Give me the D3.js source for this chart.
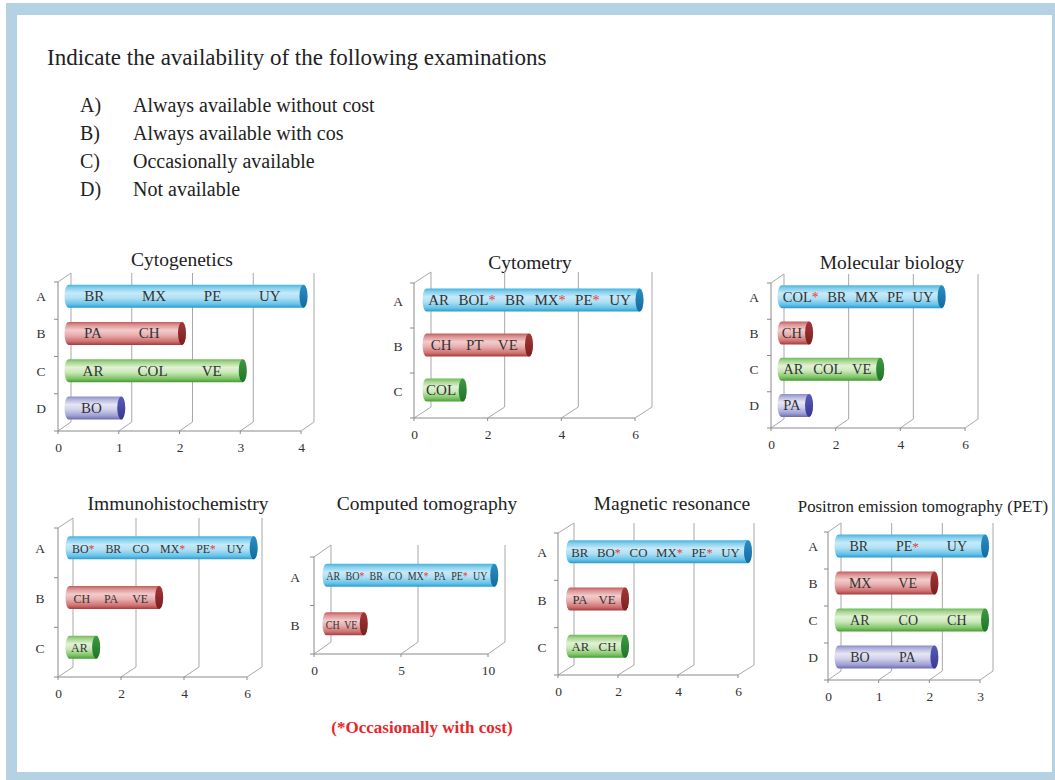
<!DOCTYPE html>
<html>
<head>
<meta charset="utf-8">
<script src="https://cdn.jsdelivr.net/npm/d3@7"></script>
<style>
  html, body { margin: 0; padding: 0; background: #fff; }
  svg { display: block; }
  text { font-family: "Liberation Serif", "Times New Roman", serif; }
</style>
</head>
<body>
<svg id="chart" width="1055" height="780"></svg>
<script>
// ---- data ----------------------------------------------------------------
const questionTitle = "Indicate the availability of the following examinations";
const optionKeys = ["A)", "B)", "C)", "D)"];
const optionTexts = ["Always available without cost", "Always available with cos",
                     "Occasionally available", "Not available"];
const footnote = "(*Occasionally with cost)";

// A trailing "*" on a country code means "occasionally with cost".
const cytogeneticsCategories = ["A", "B", "C", "D"];
const cytogeneticsValues = [4, 2, 3, 1];
const cytogeneticsCountries = [["BR", "MX", "PE", "UY"], ["PA", "CH"], ["AR", "COL", "VE"], ["BO"]];
const cytogeneticsTicks = [0, 1, 2, 3, 4];

const cytometryCategories = ["A", "B", "C"];
const cytometryValues = [6, 3, 1.2];
const cytometryCountries = [["AR", "BOL*", "BR", "MX*", "PE*", "UY"], ["CH", "PT", "VE"], ["COL"]];
const cytometryTicks = [0, 2, 4, 6];

const molecularCategories = ["A", "B", "C", "D"];
const molecularValues = [5.2, 1.1, 3.3, 1.1];
const molecularCountries = [["COL*", "BR", "MX", "PE", "UY"], ["CH"], ["AR", "COL", "VE"], ["PA"]];
const molecularTicks = [0, 2, 4, 6];

const immunoCategories = ["A", "B", "C"];
const immunoValues = [6.1, 3.1, 1.1];
const immunoCountries = [["BO*", "BR", "CO", "MX*", "PE*", "UY"], ["CH", "PA", "VE"], ["AR"]];
const immunoTicks = [0, 2, 4, 6];

const ctCategories = ["A", "B"];
const ctValues = [10.1, 2.6];
const ctCountries = [["AR", "BO*", "BR", "CO", "MX*", "PA", "PE*", "UY"], ["CH", "VE"]];
const ctTicks = [0, 5, 10];

const mrCategories = ["A", "B", "C"];
const mrValues = [6.2, 2.1, 2.1];
const mrCountries = [["BR", "BO*", "CO", "MX*", "PE*", "UY"], ["PA", "VE"], ["AR", "CH"]];
const mrTicks = [0, 2, 4, 6];

const petCategories = ["A", "B", "C", "D"];
const petValues = [3.05, 2.05, 3.05, 2.05];
const petCountries = [["BR", "PE*", "UY"], ["MX", "VE"], ["AR", "CO", "CH"], ["BO", "PA"]];
const petTicks = [0, 1, 2, 3];

// ---- panel layout ----------------------------------------------------------
const panels = [
  { title: "Cytogenetics", titleX: 182, titleY: 266, titleSize: 19.5,
    cats: cytogeneticsCategories, vals: cytogeneticsValues, names: cytogeneticsCountries, ticks: cytogeneticsTicks,
    x0: 58, x1: 301, yTop: 282, yBase: 431, dx: 13, dy: -9, catX: 41, labelSize: 15, squeeze: 1 },
  { title: "Cytometry", titleX: 530, titleY: 269, titleSize: 19.5,
    cats: cytometryCategories, vals: cytometryValues, names: cytometryCountries, ticks: cytometryTicks,
    x0: 414, x1: 635, yTop: 283, yBase: 418, dx: 17, dy: -11, catX: 398, labelSize: 15, squeeze: 1 },
  { title: "Molecular biology", titleX: 892, titleY: 269, titleSize: 19.5,
    cats: molecularCategories, vals: molecularValues, names: molecularCountries, ticks: molecularTicks,
    x0: 771, x1: 965, yTop: 283, yBase: 428, dx: 13, dy: -9, catX: 754, labelSize: 14.5, squeeze: 1 },
  { title: "Immunohistochemistry", titleX: 178, titleY: 510, titleSize: 19.5,
    cats: immunoCategories, vals: immunoValues, names: immunoCountries, ticks: immunoTicks,
    x0: 58, x1: 247, yTop: 528, yBase: 677, dx: 15, dy: -10, catX: 40, labelSize: 13, squeeze: 0.92 },
  { title: "Computed tomography", titleX: 427, titleY: 510, titleSize: 19.5,
    cats: ctCategories, vals: ctValues, names: ctCountries, ticks: ctTicks,
    x0: 314, x1: 488, yTop: 557, yBase: 654, dx: 17, dy: -12, catX: 295, labelSize: 13.5, squeeze: 0.74 },
  { title: "Magnetic resonance", titleX: 672, titleY: 510, titleSize: 19.5,
    cats: mrCategories, vals: mrValues, names: mrCountries, ticks: mrTicks,
    x0: 558, x1: 738, yTop: 533, yBase: 675, dx: 16, dy: -10, catX: 542, labelSize: 13.5, squeeze: 0.95 },
  { title: "Positron emission tomography (PET)", titleX: 923, titleY: 512, titleSize: 16.8,
    cats: petCategories, vals: petValues, names: petCountries, ticks: petTicks,
    x0: 828, x1: 980, yTop: 532, yBase: 680, dx: 13, dy: -9, catX: 813, labelSize: 14, squeeze: 1 }
];

// Cylinder shading per availability class (body stops, end-cap colour)
const shades = {
  A: { body: ["#45b3de", "#84cfee", "#c6eaf8", "#b0e0f4", "#66c3e9", "#2a9bcd"], cap: ["#2a8fc4", "#136aa0"] },
  B: { body: ["#c45c5c", "#dc9494", "#f3cccc", "#e8aeae", "#cf7070", "#a53c3c"], cap: ["#a33838", "#7a1f1f"] },
  C: { body: ["#6fba58", "#a6d68f", "#e1f2d5", "#cae8b8", "#7ec566", "#479b34"], cap: ["#3e9a40", "#1f7429"] },
  D: { body: ["#8c8cca", "#b5b5de", "#e6e6f4", "#d0d0eb", "#9d9dd3", "#6b6bb3"], cap: ["#5a5ab8", "#383894"] }
};
const bodyOffsets = ["0%", "14%", "36%", "58%", "85%", "100%"];

// ---- drawing ------------------------------------------------------------------
const svg = d3.select("#chart");
const W = 1055, H = 780;

// frame
svg.append("rect").attr("x", 0).attr("y", 0).attr("width", W).attr("height", H).attr("fill", "#fff");
svg.append("rect").attr("x", 6).attr("y", 3).attr("width", W - 6).attr("height", H - 3).attr("fill", "#b5d2e5");
svg.append("rect").attr("x", 17).attr("y", 15).attr("width", 1052 - 17).attr("height", 772 - 15).attr("fill", "#fff");

const defs = svg.append("defs");
Object.entries(shades).forEach(([k, s]) => {
  const g = defs.append("linearGradient").attr("id", "body" + k)
    .attr("x1", 0).attr("y1", 0).attr("x2", 0).attr("y2", 1);
  s.body.forEach((c, i) => g.append("stop").attr("offset", bodyOffsets[i]).attr("stop-color", c));
  const c = defs.append("linearGradient").attr("id", "cap" + k)
    .attr("x1", 0).attr("y1", 0).attr("x2", 0).attr("y2", 1);
  c.append("stop").attr("offset", "0%").attr("stop-color", s.cap[0]);
  c.append("stop").attr("offset", "100%").attr("stop-color", s.cap[1]);
});

// question text
svg.append("text").attr("x", 47).attr("y", 65).attr("font-size", 23).attr("fill", "#222")
  .text(questionTitle);
optionKeys.forEach((k, i) => {
  const y = 112 + i * 28;
  svg.append("text").attr("x", 80).attr("y", y).attr("font-size", 20).attr("fill", "#222").text(k);
  svg.append("text").attr("x", 133).attr("y", y).attr("font-size", 20).attr("fill", "#222").text(optionTexts[i]);
});

const gridColor = "#a8a8a8";

panels.forEach(p => {
  const g = svg.append("g");
  const x = d3.scaleLinear().domain([0, p.ticks[p.ticks.length - 1]]).range([p.x0, p.x1]);
  const y = d3.scaleBand().domain(p.cats).range([p.yTop, p.yBase]);
  const dx = p.dx, dy = p.dy;

  // title
  g.append("text").attr("x", p.titleX).attr("y", p.titleY).attr("text-anchor", "middle")
    .attr("font-size", p.titleSize).attr("fill", "#222").text(p.title);

  // back wall gridlines and floor diagonals
  const grid = g.append("g").attr("stroke", gridColor).attr("stroke-width", 1).attr("fill", "none");
  p.ticks.forEach(t => {
    const xt = x(t);
    grid.append("line").attr("x1", xt).attr("y1", p.yBase).attr("x2", xt + dx).attr("y2", p.yBase + dy);
    grid.append("line").attr("x1", xt + dx).attr("y1", p.yBase + dy).attr("x2", xt + dx).attr("y2", p.yTop + dy);
  });
  // left wall
  grid.append("line").attr("x1", p.x0).attr("y1", p.yTop).attr("x2", p.x0 + dx).attr("y2", p.yTop + dy);
  // front axes
  const axisG = g.append("g").attr("stroke", "#8a8a8a").attr("stroke-width", 1);
  axisG.append("line").attr("x1", p.x0).attr("y1", p.yTop).attr("x2", p.x0).attr("y2", p.yBase);
  axisG.append("line").attr("x1", p.x0).attr("y1", p.yBase).attr("x2", x.range()[1]).attr("y2", p.yBase);
  // category boundary ticks
  const bounds = p.cats.map(c => y(c)).concat([p.yBase]);
  bounds.forEach(b => axisG.append("line").attr("x1", p.x0 - 4).attr("y1", b).attr("x2", p.x0).attr("y2", b));
  p.ticks.forEach(t => axisG.append("line").attr("x1", x(t)).attr("y1", p.yBase).attr("x2", x(t)).attr("y2", p.yBase + 3));

  // numeric tick labels via a bottom axis
  const ax = g.append("g").attr("transform", `translate(0,${p.yBase})`)
    .call(d3.axisBottom(x).tickValues(p.ticks).tickSize(0).tickPadding(11).tickFormat(d3.format("d")));
  ax.select(".domain").remove();
  ax.selectAll("text").attr("font-family", "Liberation Serif, serif").attr("font-size", 13.5).attr("fill", "#333");

  // category labels
  p.cats.forEach(c => {
    g.append("text").attr("x", p.catX).attr("y", y(c) + y.bandwidth() / 2 + 0.5)
      .attr("text-anchor", "middle").attr("font-size", 13.5).attr("fill", "#333").text(c);
  });

  // cylinders
  const h = 23, rx = 4;
  p.cats.forEach((c, i) => {
    const key = c;
    const xs = x(0) + dx / 2, xe = x(p.vals[i]) + dx / 2 - rx;
    const yc = y(c) + y.bandwidth() / 2 + dy / 2;
    const top = yc - h / 2, bot = yc + h / 2;
    const path = `M${xs + rx},${top} L${xe},${top} A${rx},${h / 2} 0 0 1 ${xe},${bot} L${xs + rx},${bot} A${rx},${h / 2} 0 0 1 ${xs + rx},${top} Z`;
    g.append("path").attr("d", path).attr("fill", `url(#body${key})`);
    g.append("ellipse").attr("cx", xe).attr("cy", yc).attr("rx", rx).attr("ry", h / 2)
      .attr("fill", `url(#cap${key})`);

    // country codes spread along the bar body with even gaps
    const names = p.names[i];
    const labels = names.map(n => {
      const star = n.endsWith("*");
      const base = star ? n.slice(0, -1) : n;
      const t = g.append("text").attr("y", 0).attr("font-size", p.labelSize).attr("fill", "#333");
      t.append("tspan").text(base);
      if (star) t.append("tspan").attr("fill", "#e8393a").attr("font-size", p.labelSize * 0.95).text("*");
      const w = t.node().getComputedTextLength() * p.squeeze;
      return { t, w };
    });
    const left = xs + 1, right = xe - rx;
    const total = d3.sum(labels, l => l.w);
    const gap = Math.max(2, (right - left - total) / (names.length));
    let cx = left + gap / 2;
    labels.forEach(l => {
      l.t.attr("transform", `translate(${cx},${yc + 5}) scale(${p.squeeze},1)`);
      cx += l.w + gap;
    });
  });
});

// footnote
svg.append("text").attr("x", 422).attr("y", 733).attr("text-anchor", "middle")
  .attr("font-size", 17).attr("font-weight", "bold").attr("fill", "#e8262a").text(footnote);
</script>
</body>
</html>
